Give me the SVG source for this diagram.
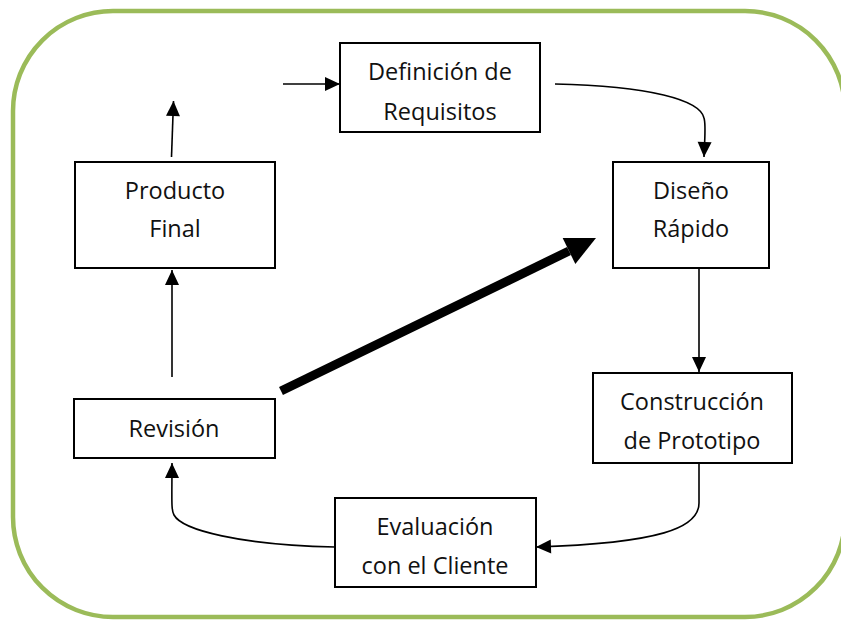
<svg xmlns="http://www.w3.org/2000/svg" width="841" height="620" viewBox="0 0 841 620">
<style>
.box{fill:#fff;stroke:#000;stroke-width:2}
.t{font-family:"Open Sans","Liberation Sans",sans-serif;font-size:23.5px;fill:#111;text-anchor:middle}
.c{fill:none;stroke:#000;stroke-width:1.6}
</style>
<defs>
<marker id="ah" markerUnits="userSpaceOnUse" markerWidth="15" markerHeight="14" refX="15" refY="7" orient="auto" overflow="visible"><path d="M0,0 L15,7 L0,14 z" fill="#000"/></marker>
<marker id="big" markerUnits="userSpaceOnUse" markerWidth="30" markerHeight="29" refX="0" refY="14.5" orient="auto" overflow="visible"><path d="M0,0 L30,14.5 L0,29 z" fill="#000"/></marker>
</defs>
<rect x="0" y="0" width="841" height="620" fill="#fff"/>
<rect x="13" y="11" width="832" height="606" rx="100" ry="100" fill="none" stroke="#9BBB59" stroke-width="4.5"/>
<g id="connectors">
<line class="c" x1="172" y1="377" x2="172" y2="270" marker-end="url(#ah)"/>
<line class="c" x1="171.5" y1="157" x2="173.5" y2="101" marker-end="url(#ah)"/>
<line class="c" x1="283" y1="84" x2="340" y2="84" marker-end="url(#ah)"/>
<path class="c" d="M555,84 C650,86 700,100 704,118 C706,124 705,132 704,157" marker-end="url(#ah)"/>
<line class="c" x1="699" y1="268" x2="699" y2="372" marker-end="url(#ah)"/>
<path class="c" d="M699,463 L699,503 C699,528 660,543 536,547" marker-end="url(#ah)"/>
<path class="c" d="M335,547 C240,545 182,530 174,515 C171,510 172,500 172,463" marker-end="url(#ah)"/>
<line x1="281" y1="391" x2="569" y2="251" stroke="#000" stroke-width="9" marker-end="url(#big)"/>
</g>
<g id="definicion">
<rect class="box" x="340" y="43" width="200" height="89"/>
<text class="t" x="440" y="80">Definición de</text>
<text class="t" x="440" y="120">Requisitos</text>
</g>
<g id="producto">
<rect class="box" x="75" y="162" width="200" height="106"/>
<text class="t" x="175" y="199">Producto</text>
<text class="t" x="175" y="237">Final</text>
</g>
<g id="diseno">
<rect class="box" x="613" y="162" width="156" height="106"/>
<text class="t" x="691" y="199">Diseño</text>
<text class="t" x="691" y="237">Rápido</text>
</g>
<g id="revision">
<rect class="box" x="74" y="399" width="201" height="59"/>
<text class="t" x="174" y="437">Revisión</text>
</g>
<g id="construccion">
<rect class="box" x="593" y="373" width="199" height="90"/>
<text class="t" x="692" y="410">Construcción</text>
<text class="t" x="692" y="449">de Prototipo</text>
</g>
<g id="evaluacion">
<rect class="box" x="335" y="498" width="201" height="89"/>
<text class="t" x="435" y="535">Evaluación</text>
<text class="t" x="435" y="574">con el Cliente</text>
</g>
</svg>
